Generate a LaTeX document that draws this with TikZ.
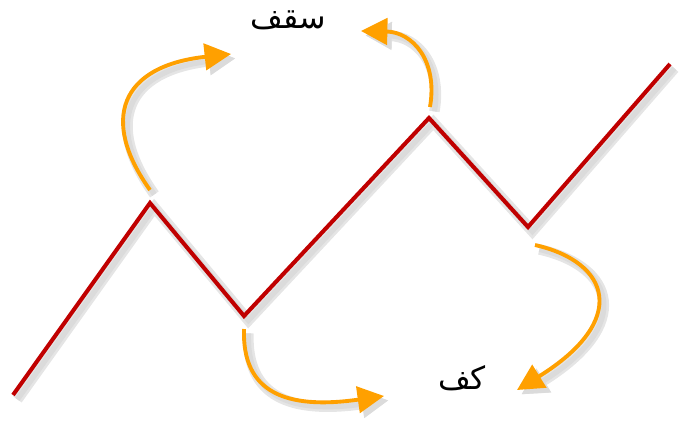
\documentclass[tikz,border=0pt]{standalone}
\usepackage{fontspec}
\newfontfamily\arabicfont[Script=Arabic]{DejaVu Sans}
\TeXXeTstate=1
\usetikzlibrary{arrows.meta}
\definecolor{trendred}{RGB}{192,0,0}
\definecolor{arroworange}{RGB}{255,160,0}
\tikzset{
    shade line/.style={preaction={draw=black!10, line width=6pt, transform canvas={shift={(2.5pt,-2.5pt)}}},
        preaction={draw=black!14, line width=3pt, transform canvas={shift={(2.5pt,-2.5pt)}}}},
    trend/.style={draw=trendred, line width=2.3pt, shade line},
    turn/.style={draw=arroworange, line width=2.2pt, -{Triangle[length=15pt, width=15pt]}, shade line},
    label/.style={font=\arabicfont\fontsize{18}{20}\selectfont, inner sep=0pt}
}
\begin{document}
\begin{tikzpicture}[x=0.02cm, y=-0.02cm]
    \useasboundingbox (0,0) rectangle (683,423);
    % Nodes
    \coordinate (S) at (13, 395);
    \coordinate (P1) at (150, 203);
    \coordinate (T1) at (244, 316);
    \coordinate (P2) at (429, 118);
    \coordinate (T2) at (528, 227);
    \coordinate (E) at (670, 64);
    \coordinate (A1) at (150, 190);
    \coordinate (A2) at (430, 107);
    \coordinate (A3) at (244, 329);
    \coordinate (A4) at (535, 245);
    \coordinate (B1) at (231, 54);
    \coordinate (B2) at (361, 31);
    \coordinate (B3) at (384, 396);
    \coordinate (B4) at (517, 390);
    \node[label] (ceil) at (288, 20) {\beginR سقف\endR};
    \node[label] (floor) at (462, 378) {\beginR کف\endR};

    % Edges
    \draw[trend, line join=miter] (S) -- (P1) -- (T1) -- (P2) -- (T2) -- (E);
    \draw[turn] (A1) .. controls (100, 120) and (120, 66) .. (B1);
    \draw[turn] (A2) .. controls (438, 60) and (412, 32) .. (B2);
    \draw[turn] (A3) .. controls (242, 392) and (285, 410) .. (B3);
    \draw[turn] (A4) .. controls (610, 262) and (630, 320) .. (B4);
\end{tikzpicture}
\end{document}
